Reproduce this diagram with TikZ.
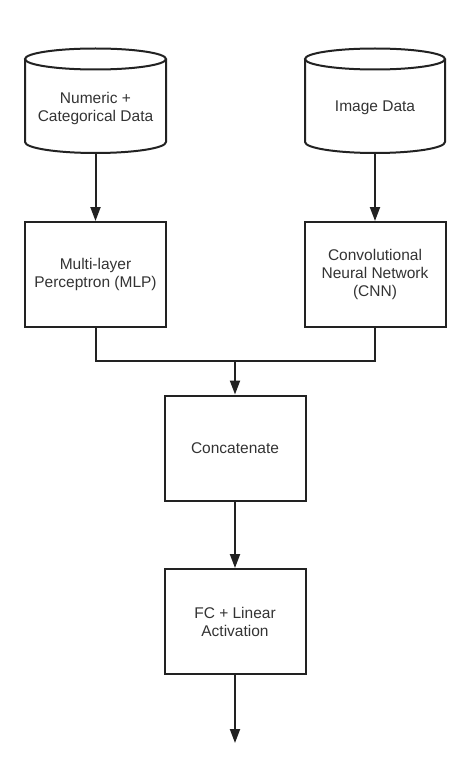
\documentclass[tikz,border=0pt]{standalone}
\usepackage{fontspec}
\setmainfont{Liberation Sans}
\usetikzlibrary{arrows.meta}
\definecolor{lc}{HTML}{222222}
\definecolor{tc}{HTML}{333333}
\begin{document}
\begin{tikzpicture}[x=1pt,y=-1pt,
  lbl/.style={align=center, font=\fontsize{15.5}{18}\selectfont, text=tc},
  box/.style={lbl, draw=lc, line width=2pt, minimum width=141pt, minimum height=105pt, inner sep=0pt},
  ln/.style={draw=lc, line width=2pt},
  arr/.style={ln, -{Triangle[length=14pt,width=10pt]}}]
\useasboundingbox (0,0) rectangle (462,773);
% cylinders
\draw[ln, line join=round] (25,59) -- (25,142) arc[start angle=180, end angle=360, x radius=70.5pt, y radius=11pt] -- (166,59);
\draw[ln] (95.5,59) ellipse [x radius=70.5pt, y radius=10.5pt];
\draw[ln, line join=round] (305,59) -- (305,142) arc[start angle=180, end angle=360, x radius=70pt, y radius=11pt] -- (445,59);
\draw[ln] (375,59) ellipse [x radius=70pt, y radius=10.5pt];
\node[lbl] (num) at (95.5,108) {Numeric +\\Categorical Data};
\node[lbl] (img) at (375,108) {Image Data};
\coordinate (numb) at (95.5,153);
\coordinate (imgb) at (375,153);
% boxes
\node[box] (mlp) at (95.5,274.5) {Multi-layer\\Perceptron (MLP)};
\node[box] (cnn) at (375,274.5) {Convolutional\\Neural Network\\(CNN)};
\node[box] (cat) at (235,448) {Concatenate};
\node[box] (fc) at (235,621.5) {FC + Linear\\Activation};
\coordinate (j) at (235,361);
\coordinate (out) at (235,743);
% connectors
\draw[arr] (numb) -- (mlp.north);
\draw[arr] (imgb) -- (cnn.north);
\draw[ln, line join=miter] (mlp.south) |- (j) -| (cnn.south);
\draw[arr] (j) -- (cat.north);
\draw[arr] (cat.south) -- (fc.north);
\draw[arr] (fc.south) -- (out);
\end{tikzpicture}
\end{document}
